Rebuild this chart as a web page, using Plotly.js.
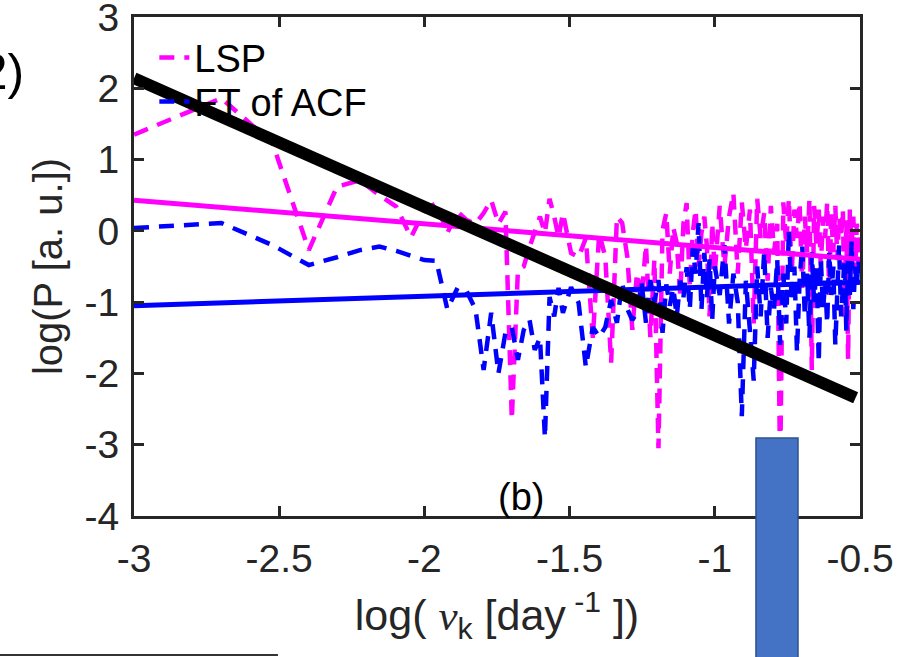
<!DOCTYPE html>
<html>
<head>
<meta charset="utf-8">
<script src="https://cdn.plot.ly/plotly-3.0.1.min.js"></script>
<style>html,body{margin:0;padding:0;background:#fff;}#chart{width:917px;height:657px;}</style>
</head>
<body>
<div id="chart"></div>
<script>
// log10 of frequency nu_k [day^-1]
const logNu = [-3.000,-2.699,-2.523,-2.398,-2.301,-2.222,-2.155,-2.097,-2.046,-2.000,
-1.959,-1.921,-1.886,-1.854,-1.824,-1.796,-1.770,-1.745,-1.721,-1.699,
-1.678,-1.658,-1.638,-1.620,-1.602,-1.585,-1.569,-1.553,-1.538,-1.523,
-1.495,-1.469,-1.444,-1.420,-1.398,-1.377,-1.357,-1.337,-1.319,-1.301,
-1.284,-1.268,-1.252,-1.237,-1.222,-1.208,-1.194,-1.180,-1.167,-1.155,
-1.143,-1.131,-1.119,-1.108,-1.097,-1.086,-1.076,-1.066,-1.056,-1.046,
-1.036,-1.027,-1.018,-1.009,-1.000,
-0.983,-0.967,-0.951,-0.936,-0.921,-0.907,-0.893,-0.879,-0.866,-0.854,
-0.842,-0.830,-0.818,-0.807,-0.796,-0.785,-0.775,-0.764,-0.754,-0.745,
-0.735,-0.726,-0.717,-0.708,-0.699,-0.690,-0.682,-0.674,-0.666,-0.658,
-0.650,-0.642,-0.635,-0.627,-0.620,-0.613,-0.606,-0.599,-0.592,-0.585,
-0.578,-0.572,-0.565,-0.559,-0.553,-0.547,-0.541,-0.535,-0.529,-0.523,
-0.517,-0.511,-0.506,-0.500];

// LSP (magenta dashed)
const lspLogP = [1.35,1.86,1.23,-0.27,0.62,0.71,0.50,0.34,-0.09,0.29,
0.39,-0.03,0.27,0.15,0.10,0.25,0.43,0.10,0.27,-2.65,
-0.55,-0.50,-0.23,0.01,0.20,-0.03,0.45,0.20,-0.09,0.25,
-0.31,-0.37,-0.10,-1.50,-0.03,-0.37,-1.85,0.20,0.11,-0.37,
-1.39,-0.59,-0.93,-0.20,-1.49,-0.40,-3.05,0.01,0.25,-0.60,
0.05,-0.17,-0.90,0.10,0.39,-0.79,-0.03,0.30,-0.50,-0.03,
0.20,-0.23,-1.20,0.11,-0.59,
0.35,-0.50,0.20,0.53,-0.60,0.40,-0.25,0.30,-1.30,0.45,
-0.10,0.25,-0.70,0.35,-0.30,0.10,-3.40,0.40,-0.20,0.45,
-0.60,0.30,-0.10,0.40,-0.80,0.20,-0.30,0.45,-1.95,0.35,
-0.20,0.30,-0.50,0.20,-0.10,0.40,-0.90,0.25,-0.30,0.35,
-0.40,0.20,-0.10,0.30,-1.20,0.15,-1.80,0.30,-0.20,0.20,
-0.60,0.10,-0.20,-0.30];

// FT of ACF (blue dashed)
const ftLogP = [0.04,0.11,-0.20,-0.48,-0.37,-0.27,-0.22,-0.28,-0.35,-0.41,
-0.42,-1.10,-0.80,-0.85,-1.10,-1.95,-1.15,-2.00,-1.43,-1.35,
-1.81,-1.39,-1.25,-1.67,-1.50,-2.90,-0.93,-1.20,-0.80,-1.15,
-0.79,-1.01,-1.91,-1.35,-1.49,-1.35,-0.97,-1.29,-0.73,-1.10,
-1.25,-1.15,-0.73,-1.29,-0.69,-1.00,-0.69,-1.43,-0.75,-1.05,
-0.80,-1.20,-0.70,-0.93,-0.51,-1.10,-0.23,-0.60,0.11,-1.11,
-0.31,-0.93,-0.40,-1.25,-0.50,
-0.90,-0.20,-1.30,-0.60,-1.00,-2.60,-0.70,-1.40,-2.10,-0.50,
-1.20,-0.30,-1.50,-0.80,-1.10,-0.40,-1.60,-0.60,-1.30,0.00,
-1.00,-0.50,-1.70,-0.70,-0.20,-1.20,-0.60,-1.50,-0.30,-1.00,
-0.50,-1.85,-0.40,-1.10,-0.70,-1.30,-0.30,-0.90,-0.50,-1.60,
-0.60,-0.20,-1.20,-0.70,-0.40,-1.40,-0.30,-0.90,-0.15,-1.10,
-0.50,-0.80,-0.40,-0.60];

// linear fits and reference slope
const fitX = [-3.0, -0.5];
const lspFitY = [0.43, -0.40];
const ftFitY = [-1.05, -0.72];
const refX = [-3.0, -0.515];
const refY = [2.14, -2.34];

const xTickVals = [-3, -2.5, -2, -1.5, -1, -0.5];
const xTickText = ['-3', '-2.5', '-2', '-1.5', '-1', '-0.5'];
const yTickVals = [-4, -3, -2, -1, 0, 1, 2, 3];
const yTickText = ['-4', '-3', '-2', '-1', '0', '1', '2', '3'];

const FONT = '"Liberation Sans", Arial, Helvetica, sans-serif';
const AX = '#262626';

const traces = [
  {x: logNu, y: lspLogP, type: 'scatter', mode: 'lines', name: 'LSP', legend: 'legend',
   line: {color: '#FF00FF', width: 4.5, dash: '15px,10px'}},
  {x: logNu, y: ftLogP, type: 'scatter', mode: 'lines', name: 'FT of ACF', legend: 'legend2',
   line: {color: '#0000FF', width: 4.5, dash: '15px,10px'}},
  {x: fitX, y: lspFitY, type: 'scatter', mode: 'lines', showlegend: false,
   line: {color: '#FF00FF', width: 5}},
  {x: fitX, y: ftFitY, type: 'scatter', mode: 'lines', showlegend: false,
   line: {color: '#0000FF', width: 5}},
  {x: refX, y: refY, type: 'scatter', mode: 'lines', showlegend: false,
   line: {color: '#000000', width: 12}}
];

const axisCommon = {
  showgrid: false, zeroline: false, showline: true, linecolor: AX, linewidth: 3,
  mirror: 'ticks', ticks: 'inside', ticklen: 10, tickwidth: 3, tickcolor: AX,
  ticklabeloverflow: 'allow',
  tickfont: {family: FONT, size: 39, color: AX}
};

const legendCommon = {xanchor: 'left', yanchor: 'middle', bgcolor: 'rgba(0,0,0,0)',
  font: {family: FONT, size: 38, color: '#000'}, itemwidth: 30};

const layout = {
  width: 917, height: 657,
  margin: {l: 134, r: 57, t: 17, b: 141, pad: 0},
  paper_bgcolor: '#fff', plot_bgcolor: '#fff',
  font: {family: FONT, color: AX},
  showlegend: true,
  legend: Object.assign({}, legendCommon, {x: 0.028, y: 0.918}),
  legend2: Object.assign({}, legendCommon, {x: 0.028, y: 0.830}),
  xaxis: Object.assign({}, axisCommon, {
    range: [-3, -0.5], tickvals: xTickVals, ticktext: xTickText, ticklabelstandoff: 6,
    title: {text: 'log( <span style="font-family:\'Liberation Serif\',serif;font-style:italic">ν</span><sub>k</sub> [day<sup> -1</sup> ])',
            font: {family: FONT, size: 43, color: AX}, standoff: 22}
  }),
  yaxis: Object.assign({}, axisCommon, {
    range: [-4, 3], tickvals: yTickVals, ticktext: yTickText, ticklabelstandoff: 4,
    title: {text: 'log(P [a. u.])', font: {family: FONT, size: 40, color: AX}, standoff: 10}
  }),
  annotations: [
    {text: '(b)', xref: 'paper', yref: 'paper', x: 0.533, y: 0.038, xanchor: 'center', yanchor: 'middle',
     showarrow: false, font: {family: FONT, size: 38, color: '#000'}},
    {text: '(2)', xref: 'paper', yref: 'paper', x: -0.1488, y: 0.89, xanchor: 'right', yanchor: 'middle',
     showarrow: false, font: {family: FONT, size: 50, color: '#000'}}
  ],
  shapes: [
    {type: 'rect', xref: 'paper', yref: 'paper', x0: 0.8567, x1: 0.9146, y0: 0.1563, y1: -0.31,
     fillcolor: '#4472C4', line: {color: '#2F528F', width: 1.5}, layer: 'above'},
    {type: 'line', xref: 'paper', yref: 'paper', x0: -0.1846, x1: 0.1983, y0: -0.2786, y1: -0.2786,
     line: {color: '#333333', width: 2}, layer: 'above'}
  ]
};

Plotly.newPlot('chart', traces, layout, {displayModeBar: false, staticPlot: true});
</script>
</body>
</html>
